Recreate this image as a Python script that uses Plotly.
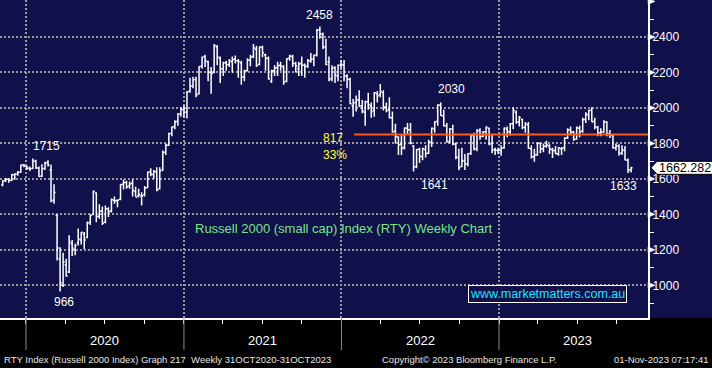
import pandas as pd
import plotly.graph_objects as go

# ---------------- data (weekly OHLC, RTY) ----------------
week_dates = pd.date_range("2019-11-08", periods=209, freq="7D")

opens = [
    # 2019
    1565, 1590, 1598, 1592, 1622, 1627, 1638, 1678,
    # 2020
    1668, 1660, 1658, 1700, 1660, 1616, 1658, 1692, 1650, 1480, 1395, 1150, 1000,
    1115, 1075, 1235, 1200, 1240, 1255, 1290, 1270, 1355, 1400, 1520, 1390, 1420,
    1355, 1430, 1420, 1480, 1478, 1485, 1570, 1580, 1560, 1575, 1530, 1505, 1505,
    1510, 1550, 1640, 1625, 1640, 1545, 1650, 1750, 1790, 1855, 1895, 1925, 1965,
    # 2021
    1990, 1975, 2095, 2125, 2160, 2080, 2235, 2290, 2260, 2200, 2200, 2345, 2280,
    2220, 2255, 2245, 2260, 2275, 2265, 2255, 2175, 2210, 2270, 2290, 2330, 2245,
    2340, 2300, 2280, 2150, 2210, 2225, 2240, 2230, 2150, 2280, 2290, 2250, 2220,
    2250, 2240, 2235, 2265, 2275, 2300, 2440, 2415, 2345, 2260, 2165, 2225, 2180, 2240,
    # 2022
    2240, 2180, 2160, 2010, 2030, 2045, 2010, 1975, 2035, 2010, 1985, 2080, 2075,
    2085, 2005, 1990, 1945, 1870, 1835, 1795, 1775, 1885, 1875, 1785, 1670, 1765,
    1725, 1765, 1745, 1805, 1880, 1925, 2015, 1955, 1900, 1810, 1880, 1795, 1720,
    1670, 1700, 1685, 1745, 1845, 1770, 1870, 1840, 1865, 1885, 1800, 1765, 1760,
    # 2023
    1760, 1775, 1880, 1865, 1910, 1975, 1920, 1935, 1890, 1905, 1770, 1725, 1735,
    1800, 1770, 1785, 1785, 1765, 1760, 1740, 1770, 1775, 1830, 1875, 1865, 1825,
    1885, 1870, 1935, 1960, 1990, 1925, 1890, 1860, 1865, 1920, 1855, 1845, 1775,
    1785, 1745, 1760, 1705, 1650,
]

highs = [
    # 2019
    1592, 1605, 1603, 1627, 1632, 1645, 1681, 1684,
    # 2020
    1675, 1670, 1715, 1708, 1670, 1683, 1696, 1705, 1680, 1570, 1400, 1215, 1183,
    1150, 1283, 1255, 1235, 1320, 1300, 1300, 1360, 1400, 1535, 1525, 1457, 1445,
    1450, 1440, 1490, 1500, 1485, 1570, 1597, 1590, 1585, 1596, 1555, 1545, 1525,
    1560, 1642, 1660, 1650, 1665, 1665, 1760, 1800, 1860, 1895, 1930, 1970, 2005,
    # 2021
    2015, 2095, 2170, 2175, 2175, 2235, 2290, 2300, 2265, 2230, 2360, 2355, 2290,
    2260, 2265, 2275, 2290, 2295, 2275, 2265, 2215, 2280, 2300, 2360, 2350, 2345,
    2350, 2305, 2290, 2215, 2240, 2260, 2260, 2240, 2280, 2300, 2300, 2260, 2260,
    2290, 2250, 2275, 2310, 2300, 2445, 2458, 2425, 2390, 2290, 2240, 2235, 2245, 2270,
    # 2022
    2270, 2190, 2170, 2050, 2070, 2100, 2045, 2040, 2085, 2030, 2090, 2095, 2135,
    2100, 2030, 2060, 1980, 1910, 1840, 1850, 1890, 1915, 1915, 1790, 1768, 1775,
    1775, 1790, 1820, 1890, 1925, 2020, 2030, 1990, 1915, 1885, 1905, 1805, 1770,
    1775, 1740, 1745, 1850, 1860, 1880, 1885, 1870, 1895, 1890, 1850, 1775, 1775,
    # 2023
    1790, 1890, 1895, 1915, 2003, 1985, 1955, 1940, 1920, 1920, 1790, 1770, 1805,
    1805, 1800, 1815, 1795, 1775, 1785, 1780, 1780, 1835, 1885, 1895, 1870, 1895,
    1900, 1945, 1975, 1990, 2003, 1945, 1900, 1885, 1930, 1925, 1875, 1850, 1800,
    1795, 1790, 1785, 1715, 1668,
]

lows = [
    # 2019
    1558, 1582, 1578, 1588, 1595, 1618, 1635, 1665,
    # 2020
    1650, 1645, 1655, 1655, 1612, 1610, 1650, 1670, 1468, 1460, 1140, 966, 990,
    1048, 1070, 1165, 1170, 1225, 1230, 1205, 1265, 1340, 1395, 1355, 1375, 1340,
    1350, 1385, 1410, 1460, 1440, 1480, 1540, 1545, 1545, 1500, 1500, 1495, 1450,
    1500, 1548, 1615, 1600, 1530, 1540, 1645, 1735, 1785, 1840, 1880, 1900, 1950,
    # 2021
    1945, 1940, 2085, 2110, 2060, 2075, 2220, 2230, 2150, 2080, 2195, 2240, 2140,
    2180, 2210, 2230, 2200, 2250, 2170, 2130, 2150, 2205, 2235, 2280, 2230, 2240,
    2285, 2210, 2160, 2140, 2180, 2180, 2210, 2130, 2145, 2265, 2230, 2200, 2180,
    2180, 2170, 2225, 2255, 2235, 2290, 2390, 2330, 2240, 2150, 2150, 2140, 2150, 2220,
    # 2022
    2150, 2110, 2020, 1950, 1980, 2005, 1970, 1900, 1990, 1945, 1950, 2030, 2060,
    1985, 1975, 1940, 1860, 1800, 1735, 1735, 1765, 1850, 1795, 1641, 1660, 1690,
    1705, 1720, 1740, 1780, 1860, 1900, 1955, 1895, 1805, 1800, 1790, 1710, 1649,
    1665, 1650, 1670, 1735, 1760, 1755, 1820, 1835, 1820, 1790, 1745, 1735, 1740,
    # 2023
    1730, 1770, 1835, 1845, 1880, 1910, 1895, 1880, 1860, 1770, 1715, 1697, 1730,
    1745, 1750, 1775, 1740, 1718, 1740, 1730, 1735, 1755, 1825, 1850, 1815, 1820,
    1835, 1860, 1915, 1930, 1920, 1880, 1840, 1840, 1860, 1840, 1830, 1770, 1760,
    1730, 1735, 1705, 1633, 1636,
]

closes = [
    # 2019
    1588, 1598, 1590, 1624, 1627, 1637, 1678, 1672,
    # 2020
    1660, 1657, 1700, 1662, 1614, 1657, 1690, 1678, 1476, 1523, 1210, 1014, 1131,
    1052, 1246, 1209, 1224, 1260, 1299, 1256, 1350, 1394, 1530, 1388, 1418, 1350,
    1431, 1415, 1483, 1475, 1480, 1568, 1580, 1555, 1571, 1535, 1497, 1512, 1505,
    1548, 1638, 1628, 1642, 1538, 1644, 1749, 1790, 1855, 1893, 1921, 1967, 1993,
    # 2021
    1975, 2091, 2123, 2159, 2073, 2233, 2285, 2266, 2201, 2192, 2352, 2287, 2221,
    2254, 2243, 2265, 2271, 2266, 2262, 2172, 2209, 2268, 2286, 2337, 2239, 2344,
    2311, 2279, 2163, 2209, 2226, 2236, 2237, 2144, 2277, 2292, 2250, 2236, 2248,
    2241, 2233, 2265, 2275, 2297, 2437, 2418, 2343, 2245, 2160, 2225, 2185, 2241, 2245,
    # 2022
    2180, 2162, 2023, 2029, 2044, 2012, 1982, 2035, 2018, 1980, 2086, 2068, 2091,
    2004, 1985, 1945, 1864, 1840, 1792, 1773, 1887, 1877, 1800, 1665, 1765, 1728,
    1770, 1743, 1807, 1885, 1921, 2016, 1957, 1899, 1809, 1882, 1798, 1722, 1664,
    1704, 1682, 1742, 1846, 1768, 1876, 1839, 1866, 1892, 1797, 1763, 1761, 1761,
    # 2023
    1772, 1887, 1866, 1911, 1985, 1919, 1946, 1890, 1909, 1773, 1725, 1735, 1802,
    1768, 1784, 1791, 1768, 1760, 1741, 1774, 1773, 1830, 1876, 1863, 1822, 1888,
    1865, 1935, 1964, 1985, 1921, 1893, 1857, 1863, 1922, 1853, 1847, 1776, 1785,
    1745, 1761, 1707, 1651, 1662,
]

last_price = 1662.282
resistance_level = 1850
resistance_start = "2022-01-30"

x_start = "2019-11-01 19:00"
x_end = "2023-12-12 06:00"
y_min, y_max = 816, 2608

y_ticks = [1000, 1200, 1400, 1600, 1800, 2000, 2200, 2400]
y_arrow_ticks = y_ticks + [2600]
y_minor_ticks = list(range(900, 2601, 100))
year_starts = ["2020-01-01", "2021-01-01", "2022-01-01", "2023-01-01"]
year_mids = ["2020-07-02", "2021-07-02", "2022-07-02", "2023-07-02"]
year_labels = ["2020", "2021", "2022", "2023"]
quarter_starts = list(pd.date_range("2019-10-01", "2023-12-01", freq="QS"))

point_labels = ["1715", "966", "2458", "2030", "1641", "1633"]
point_label_x = ["2020-02-17 12:00", "2020-03-29", "2021-11-12", "2022-09-14",
                 "2022-08-03 10:00", "2023-10-17 14:00"]
point_label_y = [1785, 908, 2525, 2106, 1565, 1560]

move_labels = ["817", "33%"]
move_label_x = "2021-11-14 12:00"
move_label_y = [1830, 1735]

chart_title = "Russell 2000 (small cap) Index (RTY) Weekly Chart"
website = "www.marketmatters.com.au"
footer_left = "RTY Index (Russell 2000 Index) Graph 217  Weekly 31OCT2020-31OCT2023"
footer_mid = "Copyright\u00a9 2023 Bloomberg Finance L.P."
footer_right = "01-Nov-2023 07:17:41"

# ---------------- styling ----------------
NAVY = "#10104a"
GRID = "#9a9a9a"
FONT = "Liberation Sans"
W, H = 712, 368
ML, MR, MT, MB = 0, 64, 0, 50
PW = W - ML - MR
PH = H - MT - MB
units_per_px = (y_max - y_min) / PH

fig = go.Figure()

fig.add_trace(go.Ohlc(
    x=week_dates, open=opens, high=highs, low=lows, close=closes,
    increasing=dict(line=dict(color="white", width=1.5)),
    decreasing=dict(line=dict(color="white", width=1.5)),
    tickwidth=0.5, showlegend=False, hoverinfo="skip",
))

fig.add_trace(go.Scatter(
    x=[resistance_start, x_end], y=[resistance_level, resistance_level],
    mode="lines", line=dict(color="#ff5a14", width=2.2),
    showlegend=False, hoverinfo="skip",
))

shapes = []
# navy background behind the price axis
shapes.append(dict(type="rect", xref="paper", yref="paper", x0=1, x1=W / PW + 0.01,
                   y0=0, y1=1, fillcolor=NAVY, line=dict(width=0), layer="below"))
# year separators below the axis
for ys in year_starts:
    shapes.append(dict(type="line", xref="x", yref="paper", x0=ys, x1=ys,
                       y0=0, y1=-32 / PH, line=dict(color="#8a8a8a", width=1)))
# triangle markers on the price axis
d = 3 * units_per_px
tw = 7 / PW
for v in y_arrow_ticks:
    shapes.append(dict(type="path", xref="paper", yref="y",
                       path=f"M 1,{v - d} L {1 + tw},{v} L 1,{v + d} Z",
                       fillcolor="white", line=dict(color="white", width=0.5)))
# last price tag
hp = 6.5 * units_per_px
x_tip = (651 - ML) / PW
x_box = (657 - ML) / PW
x_r = (W + 5) / PW
shapes.append(dict(type="path", xref="paper", yref="y",
                   path=(f"M {x_tip},{last_price} L {x_box},{last_price + hp} "
                         f"L {x_r},{last_price + hp} L {x_r},{last_price - hp} "
                         f"L {x_box},{last_price - hp} Z"),
                   fillcolor="white", line=dict(color="black", width=1)))

annotations = []
for t, xx, yy in zip(point_labels, point_label_x, point_label_y):
    annotations.append(dict(x=xx, y=yy, xref="x", yref="y", text=t, showarrow=False,
                            font=dict(color="white", size=12, family=FONT),
                            xanchor="center", yanchor="middle"))
for t, yy in zip(move_labels, move_label_y):
    annotations.append(dict(x=move_label_x, y=yy, xref="x", yref="y", text=t, showarrow=False,
                            font=dict(color="#ffff33", size=12, family=FONT),
                            xanchor="left", yanchor="middle"))
annotations.append(dict(x="2022-01-05 17:00", y=1318, xref="x", yref="y", text=chart_title,
                        showarrow=False, font=dict(color="#7be38b", size=13, family=FONT),
                        xanchor="center", yanchor="middle"))
annotations.append(dict(x="2023-04-24 12:00", y=951, xref="x", yref="y", text=website,
                        showarrow=False, font=dict(color="#22e0ff", size=12.5, family=FONT),
                        xanchor="center", yanchor="middle", bgcolor=NAVY,
                        bordercolor="white", borderwidth=1, borderpad=1))
annotations.append(dict(x=(657.5 - ML) / PW, y=last_price, xref="paper", yref="y",
                        text=f"{last_price:.3f}", showarrow=False,
                        font=dict(color="black", size=12.5, family=FONT),
                        xanchor="left", yanchor="middle"))
for t, xm in zip(year_labels, year_mids):
    annotations.append(dict(x=xm, y=-22 / PH, xref="x", yref="paper", text=t,
                            showarrow=False, font=dict(color="white", size=13, family=FONT),
                            xanchor="center", yanchor="middle"))
foot_font = dict(color="#e6e6e6", size=9.5, family=FONT)
annotations.append(dict(x=2 / PW, y=-41 / PH, xref="paper", yref="paper", text=footer_left,
                        showarrow=False, font=foot_font, xanchor="left", yanchor="middle"))
annotations.append(dict(x=469 / PW, y=-41 / PH, xref="paper", yref="paper", text=footer_mid,
                        showarrow=False, font=foot_font, xanchor="center", yanchor="middle"))
annotations.append(dict(x=711 / PW, y=-41 / PH, xref="paper", yref="paper", text=footer_right,
                        showarrow=False, font=foot_font, xanchor="right", yanchor="middle"))

fig.update_layout(
    width=W, height=H, autosize=False,
    margin=dict(l=ML, r=MR, t=MT, b=MB, pad=0),
    paper_bgcolor="black", plot_bgcolor=NAVY,
    font=dict(family=FONT, color="white"),
    showlegend=False,
    shapes=shapes, annotations=annotations,
)

fig.update_xaxes(
    type="date", range=[x_start, x_end], rangeslider=dict(visible=False),
    tickmode="array", tickvals=year_starts, showticklabels=False, ticks="",
    showgrid=True, gridcolor=GRID, griddash="2px,2px", gridwidth=2,
    showline=True, linecolor="white", linewidth=2, zeroline=False,
    minor=dict(tickmode="array", tickvals=quarter_starts, ticks="outside", ticklen=4,
               tickcolor="white", tickwidth=1, showgrid=False),
)

fig.update_yaxes(
    side="right", range=[y_min, y_max],
    tickmode="array", tickvals=y_ticks, ticktext=[str(v) for v in y_ticks],
    tickfont=dict(color="white", size=12, family=FONT), ticks="", ticklabelstandoff=0,
    showgrid=True, gridcolor=GRID, griddash="2px,2px", gridwidth=2,
    showline=True, linecolor="white", linewidth=2, zeroline=False,
    minor=dict(tickmode="array", tickvals=y_minor_ticks, ticks="outside", ticklen=4,
               tickcolor="white", tickwidth=1, showgrid=False),
)

fig.write_html(
    "out.html",
    config={"displayModeBar": False, "staticPlot": True},
    post_script="document.body.style.margin='0';document.body.style.background='black';",
)
